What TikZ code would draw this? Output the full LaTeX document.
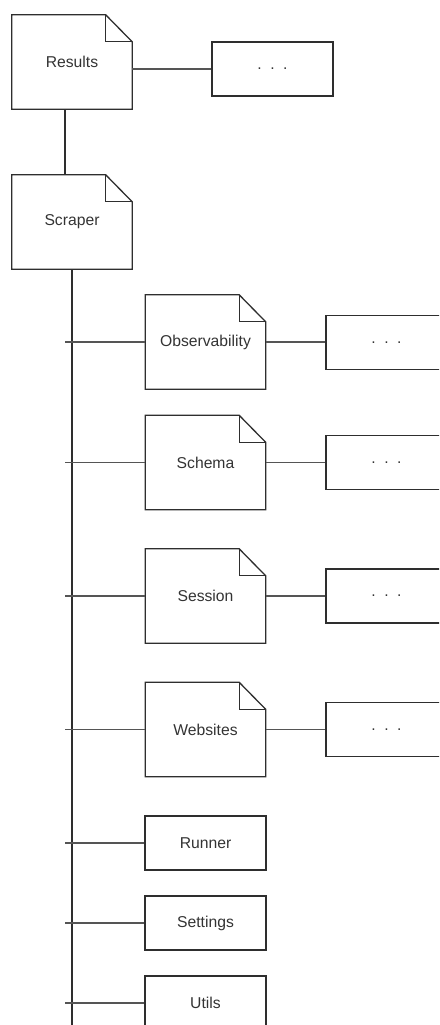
\documentclass[tikz,border=0pt]{standalone}
\usepackage{fontspec}
\setmainfont{Liberation Sans}
\definecolor{linec}{HTML}{2E2E2E}
\definecolor{connc}{HTML}{555555}
\definecolor{textc}{HTML}{333333}
\newcommand{\elpts}{.\kern8.5pt.\kern8.5pt.}
\begin{document}
\begin{tikzpicture}[x=1pt,y=-1pt,
  base/.style={inner sep=0pt, text=textc, font=\fontsize{15.7}{18}\selectfont},
  doc/.style={base, minimum width=120pt, minimum height=94pt},
  box/.style={base, draw=linec, line width=1.3pt, minimum width=121pt, minimum height=54pt},
  outline/.style={draw=linec, line width=1.3pt, line join=miter},
  conn/.style={draw=connc, line width=1.3pt}]
\useasboundingbox (0,0) rectangle (439,1025);
\clip (0,0) rectangle (439,1025);
% nodes
\node[doc] (res) at (72,62) {Results};
\node[box] (resd) at (272.5,69) {\elpts};
\node[doc] (scr) at (72,222) {Scraper};
\node[doc] (obs) at (205.5,342) {Observability};
\node[box] (obsd) at (386.5,342.5) {\elpts};
\node[doc] (sch) at (205.5,462.5) {Schema};
\node[box] (schd) at (386.5,462.5) {\elpts};
\node[doc] (ses) at (205.5,596) {Session};
\node[box] (sesd) at (386.5,596) {\elpts};
\node[doc] (web) at (205.5,729.5) {Websites};
\node[box] (webd) at (386.5,729.5) {\elpts};
\node[box] (run) at (205.5,843) {Runner};
\node[box] (set) at (205.5,923) {Settings};
\node[box] (uti) at (205.5,1003) {Utils};
\coordinate (trunkend) at (72,1030);
\coordinate (bx) at (65,0);
% folded-corner outlines
\foreach \n in {res,scr,obs,sch,ses,web}{
  \draw[outline] (\n.north west) -- ([xshift=-26.5pt]\n.north east) -- ([yshift=-27pt]\n.north east) -- (\n.south east) -- (\n.south west) -- cycle;
  \draw[outline] ([xshift=-26.5pt]\n.north east) -- ([xshift=-26.5pt,yshift=-27pt]\n.north east) -- ([yshift=-27pt]\n.north east);
}
% connectors
\draw[conn] (res.east |- resd.west) -- (resd.west);
\draw[outline] ([xshift=-7pt]res.south) -- ([xshift=-7pt]scr.north);
\draw[outline] (scr.south) -- (scr.south |- trunkend);
\foreach \n in {obs,sch,ses,web,run,set,uti}{
  \draw[conn] (\n.west -| bx) -- (\n.west);
}
\foreach \n in {obs,sch,ses,web}{
  \draw[conn] (\n.east) -- (\n.east -| \n d.west);
}
\end{tikzpicture}
\end{document}
